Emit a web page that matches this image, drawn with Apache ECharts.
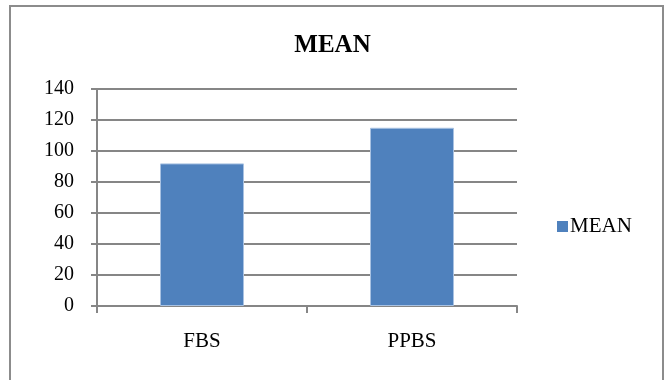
<!DOCTYPE html>
<html>
<head>
<meta charset="utf-8">
<script src="https://cdn.jsdelivr.net/npm/echarts@6/dist/echarts.min.js"></script>
<style>
  html, body { margin: 0; padding: 0; background: #fff; }
  #chart { width: 665px; height: 380px; }
</style>
</head>
<body>
<div id="chart"></div>
<script>
var categories = ['FBS', 'PPBS'];
var meanValues = [92, 115];
var seriesName = 'MEAN';

var chart = echarts.init(document.getElementById('chart'));
var serif = '"Liberation Serif", "DejaVu Serif", serif';

var option = {
    animation: false,
    graphic: [{
        type: 'rect',
        shape: { x: 10, y: 6, width: 653, height: 380 },
        style: { fill: 'none', stroke: '#8c8c8c', lineWidth: 2 }
    }],
    title: {
        text: 'MEAN',
        left: 'center',
        top: 28,
        textStyle: { fontFamily: serif, fontSize: 25, fontWeight: 'bold', color: '#000' }
    },
    legend: {
        data: [seriesName],
        icon: 'rect',
        left: 552,
        top: 211,
        itemWidth: 11,
        itemHeight: 11,
        itemGap: 4,
        itemStyle: { borderWidth: 0 },
        textStyle: { fontFamily: serif, fontSize: 21, color: '#000', padding: [0, 0, 0, -3] }
    },
    grid: { left: 97, right: 148, top: 89, bottom: 74 },
    xAxis: {
        type: 'category',
        data: categories,
        axisLine: { lineStyle: { color: '#868686', width: 2 } },
        axisTick: { show: true, length: 7, lineStyle: { color: '#868686', width: 2 } },
        axisLabel: { fontFamily: serif, fontSize: 21, color: '#000', margin: 25 }
    },
    yAxis: {
        type: 'value',
        min: 0,
        max: 140,
        interval: 20,
        axisLine: { show: true, lineStyle: { color: '#868686', width: 2 } },
        axisTick: { show: true, length: 6, lineStyle: { color: '#868686', width: 2 } },
        axisLabel: { fontFamily: serif, fontSize: 20, color: '#000', margin: 23 },
        splitLine: { lineStyle: { color: '#868686', width: 2 } }
    },
    series: [{
        name: seriesName,
        type: 'bar',
        data: meanValues,
        barWidth: '40%',
        itemStyle: { color: '#4F81BD', borderColor: '#a9c2e2', borderWidth: 1 }
    }]
};
chart.setOption(option);
</script>
</body>
</html>
